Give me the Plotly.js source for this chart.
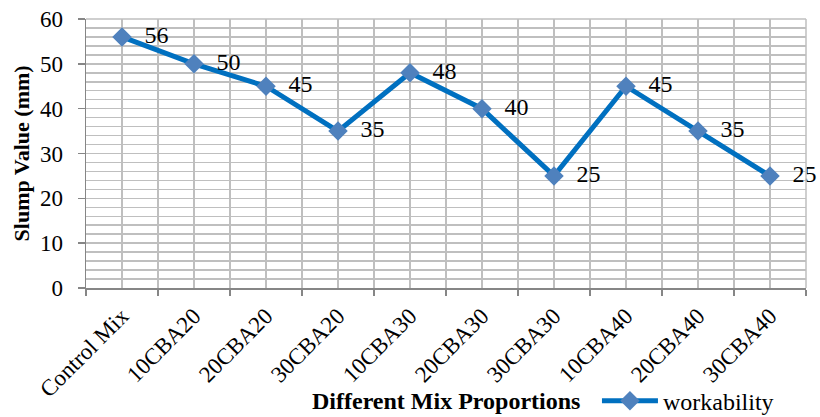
<!DOCTYPE html>
<html>
<head>
<meta charset="utf-8">
<script src="https://cdn.plot.ly/plotly-3.0.1.min.js"></script>
<style>html,body{margin:0;padding:0;background:#fff;}#chart{width:820px;height:417px;}</style>
</head>
<body>
<div id="chart"></div>
<script>
const categories = ["Control Mix","10CBA20","20CBA20","30CBA20","10CBA30","20CBA30","30CBA30","10CBA40","20CBA40","30CBA40"];
const workability = [56, 50, 45, 35, 48, 40, 25, 45, 35, 25];
const seriesName = "workability";
const xTitle = "Different Mix Proportions";
const yTitle = "Slump Value (mm)";

const idx = categories.map((_, i) => i);
const font = "Liberation Serif";
const fs = 23;

const trace = {
  x: idx,
  y: workability,
  name: seriesName,
  type: "scatter",
  mode: "lines+markers+text",
  texttemplate: "  %{y}",
  textposition: "middle right",
  textfont: {family: font, size: 24, color: "#000"},
  line: {color: "#0070C0", width: 5},
  marker: {symbol: "diamond", size: 15, color: "#4F81BD"},
  cliponaxis: false
};

const layout = {
  width: 820, height: 417,
  margin: {l: 86, r: 14, t: 19, b: 129},
  paper_bgcolor: "#fff", plot_bgcolor: "#fff",
  font: {family: font, size: fs, color: "#000"},
  showlegend: true,
  legend: {orientation: "h", xref: "container", yref: "container",
           x: 0.728, y: 0.038, xanchor: "left", yanchor: "middle",
           font: {family: font, size: 24, color: "#000"}, itemwidth: 56,
           bgcolor: "rgba(0,0,0,0)"},
  xaxis: {
    automargin: false,
    range: [-0.5, categories.length - 0.5],
    tickvals: idx, ticktext: categories,
    tickangle: -45, ticks: "", ticklabelstandoff: 4,
    showgrid: true, gridcolor: "#BFBFBF", gridwidth: 1.5,
    showline: true, linecolor: "#868686", linewidth: 1.5,
    zeroline: false,
    tickfont: {family: font, size: fs, color: "#000"},
    minor: {tick0: -0.5, dtick: 1, ticks: "outside", ticklen: 6, tickcolor: "#868686", tickwidth: 1.5,
            showgrid: true, gridcolor: "#BFBFBF", gridwidth: 1.5},
    fixedrange: true
  },
  yaxis: {
    automargin: false,
    range: [0, 60], dtick: 10, tick0: 0,
    ticks: "outside", ticklen: 7, tickcolor: "#868686", tickwidth: 1.5,
    ticklabelstandoff: 10,
    showgrid: true, gridcolor: "#BFBFBF", gridwidth: 1.5,
    showline: true, linecolor: "#868686", linewidth: 1.5,
    zeroline: false,
    tickfont: {family: font, size: fs, color: "#000"},
    minor: {dtick: 2, showgrid: true, gridcolor: "#BFBFBF", gridwidth: 1.5, ticks: ""},
    fixedrange: true
  },
  annotations: [
    {text: "<b>" + xTitle + "</b>", xref: "paper", yref: "paper", x: 0.5, y: -0.42,
     xanchor: "center", yanchor: "middle", showarrow: false,
     font: {family: font, size: 24, color: "#000"}},
    {text: "<b>" + yTitle + "</b>", xref: "paper", yref: "paper", x: -0.089, y: 0.5,
     xanchor: "center", yanchor: "middle", showarrow: false, textangle: -90,
     font: {family: font, size: 22, color: "#000"}}
  ],
  shapes: [
    {type: "line", xref: "paper", yref: "paper", x0: 1, x1: 1, y0: 0, y1: 1, line: {color: "#BFBFBF", width: 1.5}},
    {type: "line", xref: "paper", yref: "paper", x0: 0, x1: 1, y0: 1, y1: 1, line: {color: "#BFBFBF", width: 1.5}}
  ]
};

Plotly.newPlot("chart", [trace], layout, {displayModeBar: false, staticPlot: true});
</script>
</body>
</html>
